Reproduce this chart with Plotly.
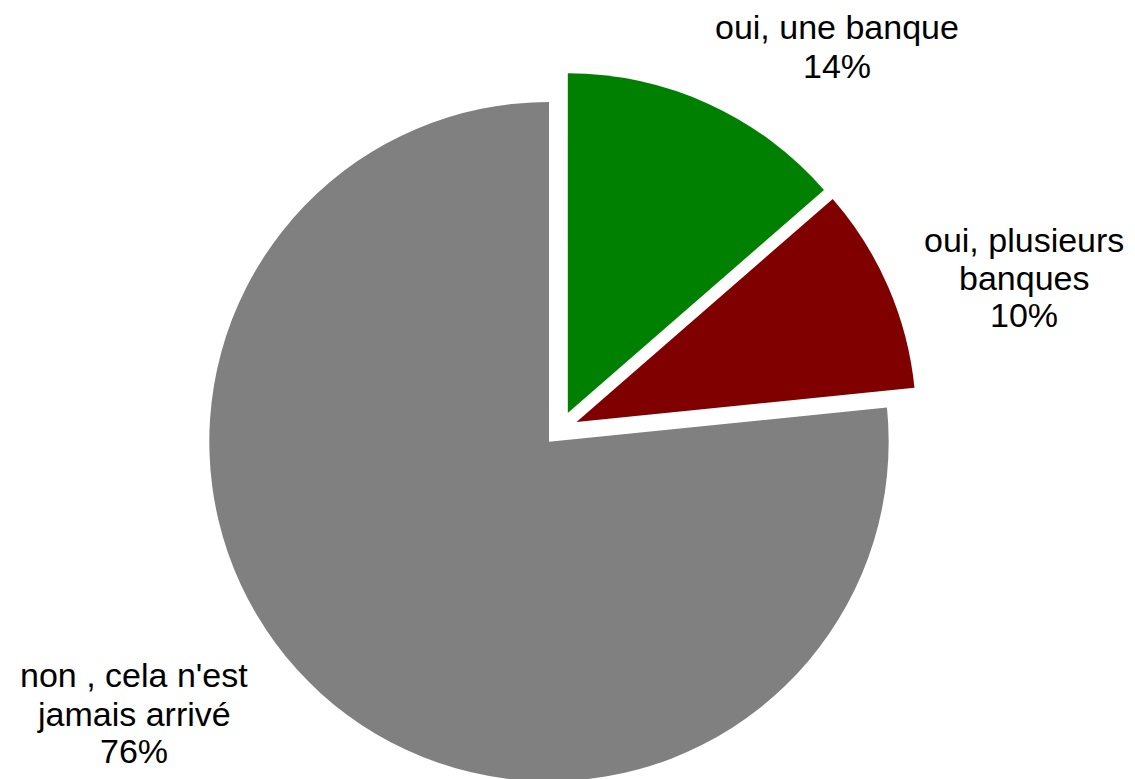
import plotly.graph_objects as go

# Data (slice sizes; label texts as printed)
labels = ["oui, une banque", "oui, plusieurs banques", "non , cela n'est jamais arrivé"]
label_lines = [["oui, une banque"], ["oui, plusieurs", "banques"], ["non , cela n'est", "jamais arrivé"]]
values = [13.6, 9.8, 76.6]
pct_text = ["14%", "10%", "76%"]
colors = ["#008000", "#800000", "#808080"]
pulls = [0.051, 0.051, 0.051]

W, H = 1135, 779
OFF = 8  # page body margin shifts the figure by this much

fig = go.Figure()
fig.add_trace(go.Pie(
    labels=labels,
    values=values,
    sort=False,
    direction="clockwise",
    rotation=0,
    pull=pulls,
    marker=dict(colors=colors, line=dict(color="white", width=0)),
    textinfo="none",
    hoverinfo="label",
    showlegend=False,
    domain=dict(x=[0.13445, 0.83930], y=[0.0015, 0.9181]),
))

# label placement: center x and baseline y of each line (screen px)
label_x = [837, 1024, 134]
label_baselines = [[39, 78], [252, 290, 327], [687, 726, 763]]
fs = 34
font = dict(family="Liberation Sans, Arial, sans-serif", size=fs, color="black")
for lines, pct, px, bases in zip(label_lines, pct_text, label_x, label_baselines):
    all_lines = lines + [pct]
    for txt, b in zip(all_lines, bases):
        cy = b - 0.35 * fs
        fig.add_annotation(
            x=(px - OFF) / W, y=1 - (cy - OFF) / H, xref="paper", yref="paper",
            xanchor="center", yanchor="middle",
            text=txt, showarrow=False, font=font, align="center",
        )

fig.update_layout(
    width=W, height=H,
    margin=dict(l=0, r=0, t=0, b=0),
    paper_bgcolor="white",
    plot_bgcolor="white",
)

fig.write_html("out.html")
